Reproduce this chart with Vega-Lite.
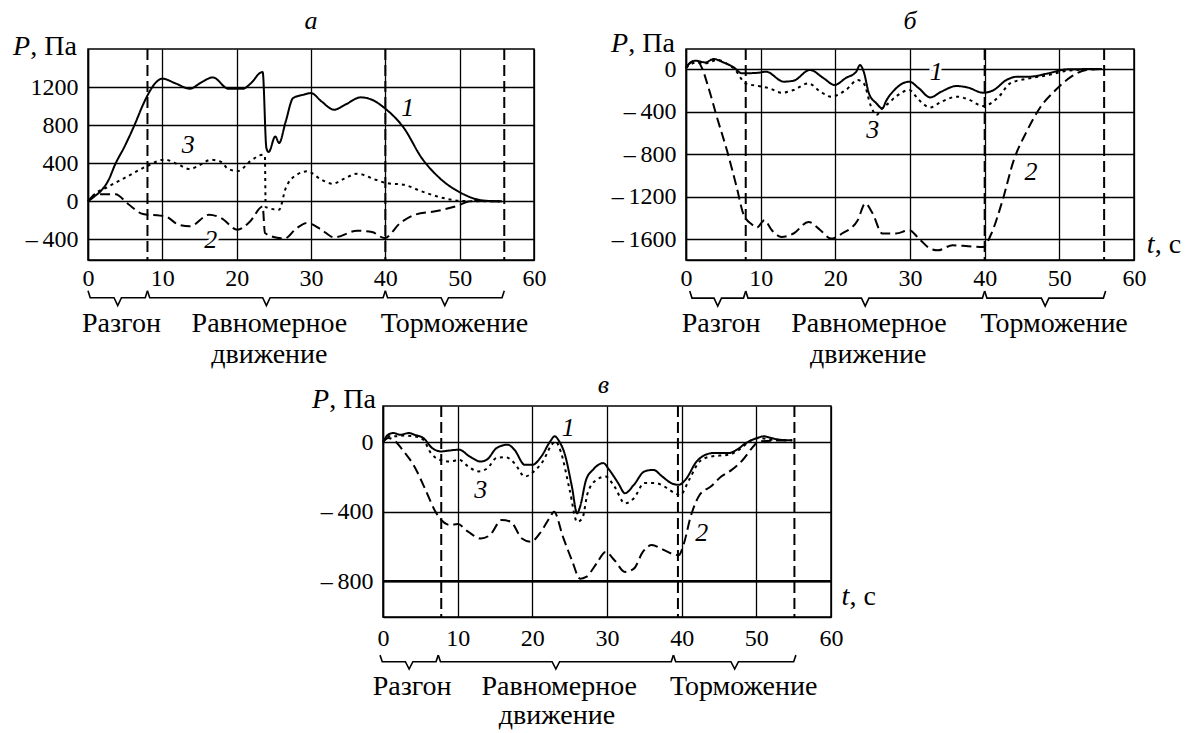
{
  "$schema": "https://vega.github.io/schema/vega-lite/v6.json",
  "padding": {"left": 12, "top": 7, "right": 5, "bottom": 5},
  "background": "white",
  "bounds": "full",
  "spacing": 1,
  "datasets": {
    "a_curves": [
      {"s":"1","t":0,"P":0},{"s":"1","t":0.9,"P":55},{"s":"1","t":1.8,"P":115},{"s":"1","t":2.8,"P":230},{"s":"1","t":3.6,"P":380},{"s":"1","t":5,"P":590},{"s":"1","t":6.4,"P":830},{"s":"1","t":7.3,"P":1000},{"s":"1","t":8.1,"P":1130},{"s":"1","t":9,"P":1240},{"s":"1","t":10,"P":1292},{"s":"1","t":11.7,"P":1245},{"s":"1","t":13.7,"P":1186},{"s":"1","t":15.2,"P":1250},{"s":"1","t":16.8,"P":1305},{"s":"1","t":18.9,"P":1186},{"s":"1","t":20.8,"P":1186},{"s":"1","t":22,"P":1250},{"s":"1","t":23.2,"P":1355},{"s":"1","t":23.5,"P":1361},{"s":"1","t":24,"P":561},{"s":"1","t":24.3,"P":519},{"s":"1","t":25.2,"P":684},{"s":"1","t":25.7,"P":614},{"s":"1","t":26.6,"P":842},{"s":"1","t":27.6,"P":1088},{"s":"1","t":29,"P":1123},{"s":"1","t":30,"P":1140},{"s":"1","t":31.4,"P":1053},{"s":"1","t":33.1,"P":965},{"s":"1","t":34.6,"P":1018},{"s":"1","t":36.7,"P":1095},{"s":"1","t":38.2,"P":1070},{"s":"1","t":39.9,"P":982},{"s":"1","t":42.5,"P":772},{"s":"1","t":44.9,"P":456},{"s":"1","t":47.3,"P":246},{"s":"1","t":50.2,"P":88},{"s":"1","t":53.1,"P":10},{"s":"1","t":55.7,"P":0},
      {"s":"3","t":0,"P":0},{"s":"3","t":0.8,"P":70},{"s":"3","t":2.6,"P":150},{"s":"3","t":5,"P":250},{"s":"3","t":7.9,"P":370},{"s":"3","t":10.3,"P":440},{"s":"3","t":12.2,"P":386},{"s":"3","t":13.7,"P":340},{"s":"3","t":15,"P":380},{"s":"3","t":16.5,"P":438},{"s":"3","t":17.8,"P":420},{"s":"3","t":18.9,"P":340},{"s":"3","t":20.2,"P":320},{"s":"3","t":21.8,"P":421},{"s":"3","t":23.5,"P":491},{"s":"3","t":23.8,"P":480},{"s":"3","t":23.9,"P":-60},{"s":"3","t":25.7,"P":-88},{"s":"3","t":26.6,"P":140},{"s":"3","t":28.1,"P":281},{"s":"3","t":29.5,"P":316},{"s":"3","t":31.4,"P":228},{"s":"3","t":32.9,"P":186},{"s":"3","t":34.5,"P":240},{"s":"3","t":36.2,"P":291},{"s":"3","t":38.7,"P":228},{"s":"3","t":40.1,"P":193},{"s":"3","t":42.5,"P":175},{"s":"3","t":44.9,"P":105},{"s":"3","t":47.8,"P":35},{"s":"3","t":50.2,"P":4},{"s":"3","t":55.7,"P":0},
      {"s":"2","t":0,"P":0},{"s":"2","t":1.1,"P":75},{"s":"2","t":3.7,"P":75},{"s":"2","t":5.4,"P":-28},{"s":"2","t":7.4,"P":-133},{"s":"2","t":9.7,"P":-150},{"s":"2","t":10.5,"P":-160},{"s":"2","t":12.2,"P":-246},{"s":"2","t":13.7,"P":-263},{"s":"2","t":16.3,"P":-140},{"s":"2","t":17.9,"P":-175},{"s":"2","t":20.1,"P":-298},{"s":"2","t":21.8,"P":-211},{"s":"2","t":23.5,"P":-53},{"s":"2","t":23.8,"P":-333},{"s":"2","t":25.7,"P":-386},{"s":"2","t":26.4,"P":-393},{"s":"2","t":28.1,"P":-281},{"s":"2","t":29.5,"P":-228},{"s":"2","t":31.4,"P":-298},{"s":"2","t":33.1,"P":-379},{"s":"2","t":36.2,"P":-309},{"s":"2","t":38.2,"P":-323},{"s":"2","t":39.9,"P":-386},{"s":"2","t":42,"P":-228},{"s":"2","t":44,"P":-140},{"s":"2","t":46.9,"P":-102},{"s":"2","t":49.7,"P":-46},{"s":"2","t":51.6,"P":4},{"s":"2","t":55.7,"P":0}
    ],
    "b_curves": [
      {"s":"1","t":0,"P":20},{"s":"1","t":1.25,"P":78},{"s":"1","t":2.6,"P":62},{"s":"1","t":3.7,"P":94},{"s":"1","t":5,"P":62},{"s":"1","t":6.4,"P":15},{"s":"1","t":7.5,"P":-41},{"s":"1","t":9.7,"P":-35},{"s":"1","t":10.7,"P":-25},{"s":"1","t":13.1,"P":-119},{"s":"1","t":14.4,"P":-110},{"s":"1","t":16.6,"P":-9},{"s":"1","t":18.4,"P":-85},{"s":"1","t":19.9,"P":-150},{"s":"1","t":21.4,"P":-85},{"s":"1","t":22.8,"P":-25},{"s":"1","t":23.3,"P":38},{"s":"1","t":23.8,"P":-25},{"s":"1","t":24.5,"P":-229},{"s":"1","t":25.5,"P":-323},{"s":"1","t":26.3,"P":-370},{"s":"1","t":26.8,"P":-300},{"s":"1","t":27.9,"P":-198},{"s":"1","t":29.9,"P":-119},{"s":"1","t":31.2,"P":-182},{"s":"1","t":32.7,"P":-267},{"s":"1","t":34.2,"P":-213},{"s":"1","t":36.2,"P":-160},{"s":"1","t":37.7,"P":-173},{"s":"1","t":39.8,"P":-223},{"s":"1","t":41.2,"P":-198},{"s":"1","t":42.9,"P":-104},{"s":"1","t":44.4,"P":-72},{"s":"1","t":46,"P":-72},{"s":"1","t":48.5,"P":-41},{"s":"1","t":51.1,"P":-3},{"s":"1","t":55.7,"P":0},
      {"s":"3","t":0,"P":10},{"s":"3","t":1.3,"P":60},{"s":"3","t":2.6,"P":53},{"s":"3","t":4.2,"P":85},{"s":"3","t":5.4,"P":53},{"s":"3","t":6.4,"P":6},{"s":"3","t":8,"P":-135},{"s":"3","t":9.7,"P":-160},{"s":"3","t":11.2,"P":-182},{"s":"3","t":12.8,"P":-223},{"s":"3","t":14.4,"P":-198},{"s":"3","t":16.4,"P":-135},{"s":"3","t":18,"P":-213},{"s":"3","t":19.4,"P":-260},{"s":"3","t":21.4,"P":-198},{"s":"3","t":23,"P":-104},{"s":"3","t":23.8,"P":-135},{"s":"3","t":24.8,"P":-355},{"s":"3","t":25.5,"P":-433},{"s":"3","t":26.3,"P":-370},{"s":"3","t":27.1,"P":-323},{"s":"3","t":28.1,"P":-260},{"s":"3","t":29.9,"P":-198},{"s":"3","t":31.2,"P":-292},{"s":"3","t":32.7,"P":-361},{"s":"3","t":34.2,"P":-308},{"s":"3","t":36.3,"P":-260},{"s":"3","t":37.8,"P":-285},{"s":"3","t":39.8,"P":-348},{"s":"3","t":41.9,"P":-260},{"s":"3","t":43.4,"P":-135},{"s":"3","t":46,"P":-88},{"s":"3","t":48.5,"P":-57},{"s":"3","t":51.1,"P":-16},{"s":"3","t":55.7,"P":0},
      {"s":"2","t":0,"P":10},{"s":"2","t":0.6,"P":62},{"s":"2","t":1.5,"P":78},{"s":"2","t":2.1,"P":15},{"s":"2","t":3,"P":-173},{"s":"2","t":4.15,"P":-455},{"s":"2","t":5.5,"P":-769},{"s":"2","t":6.8,"P":-1114},{"s":"2","t":7.7,"P":-1365},{"s":"2","t":8.8,"P":-1459},{"s":"2","t":9.5,"P":-1490},{"s":"2","t":10.5,"P":-1421},{"s":"2","t":11.5,"P":-1515},{"s":"2","t":12.8,"P":-1578},{"s":"2","t":14.4,"P":-1546},{"s":"2","t":16.4,"P":-1437},{"s":"2","t":18,"P":-1515},{"s":"2","t":19.4,"P":-1594},{"s":"2","t":20.9,"P":-1546},{"s":"2","t":23,"P":-1421},{"s":"2","t":24,"P":-1264},{"s":"2","t":25,"P":-1358},{"s":"2","t":26.3,"P":-1546},{"s":"2","t":28.1,"P":-1546},{"s":"2","t":29.9,"P":-1515},{"s":"2","t":31.2,"P":-1594},{"s":"2","t":32.7,"P":-1688},{"s":"2","t":33.7,"P":-1704},{"s":"2","t":35.7,"P":-1657},{"s":"2","t":37.8,"P":-1666},{"s":"2","t":39.8,"P":-1673},{"s":"2","t":40.9,"P":-1546},{"s":"2","t":42.4,"P":-1233},{"s":"2","t":43.9,"P":-856},{"s":"2","t":45.5,"P":-605},{"s":"2","t":47.5,"P":-355},{"s":"2","t":49.5,"P":-198},{"s":"2","t":51.6,"P":-72},{"s":"2","t":53.6,"P":-9},{"s":"2","t":55.7,"P":0}
    ],
    "c_curves": [
      {"s":"1","t":0,"P":0},{"s":"1","t":0.67,"P":42},{"s":"1","t":1.4,"P":52},{"s":"1","t":2.3,"P":42},{"s":"1","t":3.5,"P":52},{"s":"1","t":4.2,"P":42},{"s":"1","t":5.4,"P":23},{"s":"1","t":6.6,"P":-35},{"s":"1","t":7.8,"P":-54},{"s":"1","t":9,"P":-48},{"s":"1","t":10.2,"P":-44},{"s":"1","t":11.6,"P":-83},{"s":"1","t":13.1,"P":-112},{"s":"1","t":14,"P":-98},{"s":"1","t":15.2,"P":-35},{"s":"1","t":16.7,"P":-15},{"s":"1","t":17.6,"P":-44},{"s":"1","t":19,"P":-131},{"s":"1","t":20,"P":-131},{"s":"1","t":21.2,"P":-83},{"s":"1","t":22.4,"P":4},{"s":"1","t":23,"P":33},{"s":"1","t":23.6,"P":4},{"s":"1","t":24.3,"P":-63},{"s":"1","t":25.3,"P":-256},{"s":"1","t":26,"P":-410},{"s":"1","t":26.4,"P":-371},{"s":"1","t":27.2,"P":-217},{"s":"1","t":28.1,"P":-160},{"s":"1","t":29.5,"P":-121},{"s":"1","t":30.3,"P":-160},{"s":"1","t":31.5,"P":-236},{"s":"1","t":32.4,"P":-294},{"s":"1","t":33.6,"P":-246},{"s":"1","t":35,"P":-169},{"s":"1","t":36.2,"P":-160},{"s":"1","t":37.4,"P":-198},{"s":"1","t":38.6,"P":-236},{"s":"1","t":39.6,"P":-246},{"s":"1","t":40.5,"P":-217},{"s":"1","t":42,"P":-112},{"s":"1","t":43.2,"P":-73},{"s":"1","t":44.3,"P":-63},{"s":"1","t":46.3,"P":-63},{"s":"1","t":47.4,"P":-44},{"s":"1","t":48.6,"P":-6},{"s":"1","t":50.1,"P":23},{"s":"1","t":51,"P":33},{"s":"1","t":52,"P":23},{"s":"1","t":53.2,"P":13},{"s":"1","t":54.8,"P":10},
      {"s":"3","t":0,"P":0},{"s":"3","t":0.7,"P":33},{"s":"3","t":1.6,"P":33},{"s":"3","t":2.8,"P":37},{"s":"3","t":4.2,"P":33},{"s":"3","t":5.4,"P":13},{"s":"3","t":6.4,"P":-63},{"s":"3","t":7.6,"P":-102},{"s":"3","t":9,"P":-112},{"s":"3","t":10.2,"P":-102},{"s":"3","t":11.4,"P":-140},{"s":"3","t":12.8,"P":-169},{"s":"3","t":14,"P":-150},{"s":"3","t":15.2,"P":-92},{"s":"3","t":16.4,"P":-87},{"s":"3","t":17.6,"P":-121},{"s":"3","t":19,"P":-198},{"s":"3","t":20.2,"P":-169},{"s":"3","t":21.4,"P":-112},{"s":"3","t":22.6,"P":-15},{"s":"3","t":23.1,"P":4},{"s":"3","t":23.8,"P":-54},{"s":"3","t":25,"P":-275},{"s":"3","t":26,"P":-458},{"s":"3","t":26.7,"P":-438},{"s":"3","t":27.4,"P":-294},{"s":"3","t":28.6,"P":-217},{"s":"3","t":29.8,"P":-198},{"s":"3","t":31,"P":-256},{"s":"3","t":32.4,"P":-352},{"s":"3","t":33.6,"P":-323},{"s":"3","t":35,"P":-236},{"s":"3","t":36.5,"P":-236},{"s":"3","t":37.7,"P":-256},{"s":"3","t":39.1,"P":-294},{"s":"3","t":39.8,"P":-304},{"s":"3","t":41,"P":-217},{"s":"3","t":42.4,"P":-112},{"s":"3","t":43.9,"P":-83},{"s":"3","t":46.3,"P":-73},{"s":"3","t":47.7,"P":-44},{"s":"3","t":49.1,"P":4},{"s":"3","t":50.5,"P":23},{"s":"3","t":52,"P":13},{"s":"3","t":54.8,"P":10},
      {"s":"2","t":0,"P":0},{"s":"2","t":0.7,"P":23},{"s":"2","t":1.4,"P":13},{"s":"2","t":2.6,"P":-44},{"s":"2","t":4.2,"P":-140},{"s":"2","t":5.7,"P":-275},{"s":"2","t":6.9,"P":-390},{"s":"2","t":7.8,"P":-448},{"s":"2","t":9,"P":-477},{"s":"2","t":10,"P":-471},{"s":"2","t":11.4,"P":-515},{"s":"2","t":13.1,"P":-554},{"s":"2","t":14.3,"P":-535},{"s":"2","t":15.9,"P":-448},{"s":"2","t":17.1,"P":-458},{"s":"2","t":18.6,"P":-554},{"s":"2","t":19.8,"P":-573},{"s":"2","t":21,"P":-525},{"s":"2","t":22.4,"P":-429},{"s":"2","t":22.9,"P":-400},{"s":"2","t":24.1,"P":-544},{"s":"2","t":25.3,"P":-679},{"s":"2","t":26.4,"P":-785},{"s":"2","t":27.2,"P":-775},{"s":"2","t":28.6,"P":-698},{"s":"2","t":29.8,"P":-631},{"s":"2","t":31,"P":-679},{"s":"2","t":32.4,"P":-746},{"s":"2","t":33.6,"P":-727},{"s":"2","t":34.8,"P":-631},{"s":"2","t":36,"P":-592},{"s":"2","t":37.2,"P":-611},{"s":"2","t":38.6,"P":-640},{"s":"2","t":39.6,"P":-650},{"s":"2","t":40.3,"P":-583},{"s":"2","t":41.2,"P":-429},{"s":"2","t":42.4,"P":-304},{"s":"2","t":43.9,"P":-256},{"s":"2","t":45.3,"P":-198},{"s":"2","t":46.7,"P":-160},{"s":"2","t":48.2,"P":-102},{"s":"2","t":49.6,"P":-25},{"s":"2","t":50.3,"P":4},{"s":"2","t":54.8,"P":10}
    ],
    "a_marks": [{"t":8,"k":"edge"},{"t":40,"k":"mid"},{"t":56,"k":"edge"}],
    "b_marks": [{"t":8,"k":"edge"},{"t":40,"k":"mid"},{"t":56,"k":"edge"}],
    "c_marks": [{"t":7.8,"k":"edge"},{"t":39.5,"k":"edge"},{"t":55.1,"k":"edge"}],
    "a_braces": [
      {"g":"r","t":0,"P":-940},{"g":"r","t":0.3,"P":-1014},{"g":"r","t":3.5,"P":-1014},{"g":"r","t":4,"P":-1098},{"g":"r","t":4.5,"P":-1014},{"g":"r","t":7.7,"P":-1014},{"g":"r","t":8,"P":-940},
      {"g":"u","t":8,"P":-940},{"g":"u","t":8.3,"P":-1014},{"g":"u","t":23.5,"P":-1014},{"g":"u","t":24,"P":-1098},{"g":"u","t":24.5,"P":-1014},{"g":"u","t":39.7,"P":-1014},{"g":"u","t":40,"P":-940},
      {"g":"b","t":40,"P":-940},{"g":"b","t":40.3,"P":-1014},{"g":"b","t":47.5,"P":-1014},{"g":"b","t":48,"P":-1098},{"g":"b","t":48.5,"P":-1014},{"g":"b","t":55.7,"P":-1014},{"g":"b","t":56,"P":-940}
    ],
    "b_braces": [
      {"g":"r","t":0.5,"P":-2087},{"g":"r","t":0.8,"P":-2153},{"g":"r","t":3.75,"P":-2153},{"g":"r","t":4.25,"P":-2228},{"g":"r","t":4.75,"P":-2153},{"g":"r","t":7.7,"P":-2153},{"g":"r","t":8,"P":-2087},
      {"g":"u","t":8,"P":-2087},{"g":"u","t":8.3,"P":-2153},{"g":"u","t":23.5,"P":-2153},{"g":"u","t":24,"P":-2228},{"g":"u","t":24.5,"P":-2153},{"g":"u","t":39.7,"P":-2153},{"g":"u","t":40,"P":-2087},
      {"g":"b","t":40,"P":-2087},{"g":"b","t":40.3,"P":-2153},{"g":"b","t":47.6,"P":-2153},{"g":"b","t":48.1,"P":-2228},{"g":"b","t":48.6,"P":-2153},{"g":"b","t":55.9,"P":-2153},{"g":"b","t":56.2,"P":-2087}
    ],
    "c_braces": [
      {"g":"r","t":-0.4,"P":-1224},{"g":"r","t":-0.1,"P":-1262},{"g":"r","t":3,"P":-1262},{"g":"r","t":3.5,"P":-1304},{"g":"r","t":4,"P":-1262},{"g":"r","t":7.1,"P":-1262},{"g":"r","t":7.4,"P":-1224},
      {"g":"u","t":7.4,"P":-1224},{"g":"u","t":7.7,"P":-1262},{"g":"u","t":22.65,"P":-1262},{"g":"u","t":23.15,"P":-1304},{"g":"u","t":23.65,"P":-1262},{"g":"u","t":38.6,"P":-1262},{"g":"u","t":38.9,"P":-1224},
      {"g":"b","t":38.9,"P":-1224},{"g":"b","t":39.2,"P":-1262},{"g":"b","t":46.6,"P":-1262},{"g":"b","t":47.1,"P":-1304},{"g":"b","t":47.6,"P":-1262},{"g":"b","t":55,"P":-1262},{"g":"b","t":55.3,"P":-1224}
    ],
    "a_labels": [{"t":43,"P":979,"n":"1"},{"t":13.5,"P":596,"n":"3"},{"t":16.5,"P":-403,"n":"2"}],
    "b_labels": [{"t":33.5,"P":-25,"n":"1"},{"t":25,"P":-574,"n":"3"},{"t":46.2,"P":-966,"n":"2"}],
    "c_labels": [{"t":24.8,"P":81,"n":"1"},{"t":13.1,"P":-275,"n":"3"},{"t":42.7,"P":-525,"n":"2"}],
    "a_phases": [{"t":4.5,"P":-1372,"text":"Разгон"},{"t":24.4,"P":-1372,"text":"Равномерное"},{"t":24.4,"P":-1698,"text":"движение"},{"t":49.3,"P":-1372,"text":"Торможение"}],
    "b_phases": [{"t":4.7,"P":-2472,"text":"Разгон"},{"t":24.5,"P":-2472,"text":"Равномерное"},{"t":24.4,"P":-2764,"text":"движение"},{"t":49.3,"P":-2472,"text":"Торможение"}],
    "c_phases": [{"t":3.9,"P":-1452,"text":"Разгон"},{"t":23.6,"P":-1452,"text":"Равномерное"},{"t":23.3,"P":-1619,"text":"движение"},{"t":48.3,"P":-1452,"text":"Торможение"}],
    "one": [{"k":1}]
  },
  "vconcat": [
    {
      "hconcat": [
        {
          "width": 446, "height": 211,
          "layer": [
            {"data": {"name": "a_curves"}, "mark": {"type": "line", "interpolate": "monotone", "strokeWidth": 2, "color": "black"},
             "encoding": {
               "x": {"field": "t", "type": "quantitative", "scale": {"domain": [0, 60], "nice": false, "zero": false}, "axis": {"values": [0,10,20,30,40,50,60], "grid": true, "title": null, "labelFlush": false, "labelOverlap": false}},
               "y": {"field": "P", "type": "quantitative", "scale": {"domain": [-617, 1604], "nice": false, "zero": false}, "axis": {"values": [-400,0,400,800,1200], "grid": true, "title": null, "labelExpr": "datum.value < 0 ? '–\u2009' + abs(datum.value) : '' + datum.value"}},
               "strokeDash": {"field": "s", "type": "nominal", "scale": {"domain": ["1","2","3"], "range": [[1,0],[10,5],[3,4]]}, "legend": null},
               "strokeWidth": {"field": "s", "type": "nominal", "scale": {"domain": ["1","2","3"], "range": [2,2,2.4]}, "legend": null}
             }},
            {"data": {"name": "a_marks"}, "mark": {"type": "rule", "color": "black", "strokeDash": [11, 5]},
             "encoding": {"x": {"field": "t", "type": "quantitative"}, "strokeWidth": {"field": "k", "type": "nominal", "scale": {"domain": ["edge","mid"], "range": [1.6, 3.2]}, "legend": null}}},
            {"data": {"name": "a_braces"}, "mark": {"type": "line", "color": "black", "strokeWidth": 1.6},
             "encoding": {"x": {"field": "t", "type": "quantitative"}, "y": {"field": "P", "type": "quantitative"}, "detail": {"field": "g"}}},
            {"data": {"name": "a_labels"}, "mark": {"type": "text", "fontStyle": "italic", "fontSize": 26, "fill": "white", "stroke": "white", "strokeWidth": 6, "baseline": "middle"},
             "encoding": {"x": {"field": "t", "type": "quantitative"}, "y": {"field": "P", "type": "quantitative"}, "text": {"field": "n"}}},
            {"data": {"name": "a_labels"}, "mark": {"type": "text", "fontStyle": "italic", "fontSize": 26, "color": "black", "baseline": "middle"},
             "encoding": {"x": {"field": "t", "type": "quantitative"}, "y": {"field": "P", "type": "quantitative"}, "text": {"field": "n"}}},
            {"data": {"name": "a_phases"}, "mark": {"type": "text", "fontSize": 28, "color": "black", "baseline": "alphabetic", "align": "center"},
             "encoding": {"x": {"field": "t", "type": "quantitative"}, "y": {"field": "P", "type": "quantitative"}, "text": {"field": "text"}}},
            {"data": {"name": "one"}, "mark": {"type": "text", "text": "а", "fontStyle": "italic", "fontSize": 26, "color": "black", "align": "center", "baseline": "alphabetic", "dy": -20},
             "encoding": {"x": {"datum": 30}, "y": {"datum": 1604}}},
            {"data": {"name": "one"}, "mark": {"type": "text", "text": "P", "fontStyle": "italic", "fontSize": 28, "color": "black", "align": "right", "baseline": "alphabetic", "dx": -58, "dy": 6},
             "encoding": {"x": {"datum": 0}, "y": {"datum": 1604}}},
            {"data": {"name": "one"}, "mark": {"type": "text", "text": ", Па", "fontSize": 28, "color": "black", "align": "right", "baseline": "alphabetic", "dx": -11, "dy": 6},
             "encoding": {"x": {"datum": 0}, "y": {"datum": 1604}}}
          ]
        },
        {
          "width": 448, "height": 211,
          "layer": [
            {"data": {"name": "b_curves"}, "mark": {"type": "line", "interpolate": "monotone", "strokeWidth": 2, "color": "black"},
             "encoding": {
               "x": {"field": "t", "type": "quantitative", "scale": {"domain": [0, 60], "nice": false, "zero": false}, "axis": {"values": [0,10,20,30,40,50,60], "grid": true, "title": null, "labelFlush": false, "labelOverlap": false}},
               "y": {"field": "P", "type": "quantitative", "scale": {"domain": [-1795, 188], "nice": false, "zero": false}, "axis": {"values": [-1600,-1200,-800,-400,0], "grid": true, "title": null, "labelExpr": "datum.value < 0 ? '–\u2009' + abs(datum.value) : '' + datum.value"}},
               "strokeDash": {"field": "s", "type": "nominal", "scale": {"domain": ["1","2","3"], "range": [[1,0],[10,5],[3,4]]}, "legend": null},
               "strokeWidth": {"field": "s", "type": "nominal", "scale": {"domain": ["1","2","3"], "range": [2,2,2.4]}, "legend": null}
             }},
            {"data": {"name": "b_marks"}, "mark": {"type": "rule", "color": "black", "strokeDash": [11, 5]},
             "encoding": {"x": {"field": "t", "type": "quantitative"}, "strokeWidth": {"field": "k", "type": "nominal", "scale": {"domain": ["edge","mid"], "range": [1.6, 3.2]}, "legend": null}}},
            {"data": {"name": "b_braces"}, "mark": {"type": "line", "color": "black", "strokeWidth": 1.6},
             "encoding": {"x": {"field": "t", "type": "quantitative"}, "y": {"field": "P", "type": "quantitative"}, "detail": {"field": "g"}}},
            {"data": {"name": "b_labels"}, "mark": {"type": "text", "fontStyle": "italic", "fontSize": 26, "fill": "white", "stroke": "white", "strokeWidth": 6, "baseline": "middle"},
             "encoding": {"x": {"field": "t", "type": "quantitative"}, "y": {"field": "P", "type": "quantitative"}, "text": {"field": "n"}}},
            {"data": {"name": "b_labels"}, "mark": {"type": "text", "fontStyle": "italic", "fontSize": 26, "color": "black", "baseline": "middle"},
             "encoding": {"x": {"field": "t", "type": "quantitative"}, "y": {"field": "P", "type": "quantitative"}, "text": {"field": "n"}}},
            {"data": {"name": "b_phases"}, "mark": {"type": "text", "fontSize": 28, "color": "black", "baseline": "alphabetic", "align": "center"},
             "encoding": {"x": {"field": "t", "type": "quantitative"}, "y": {"field": "P", "type": "quantitative"}, "text": {"field": "text"}}},
            {"data": {"name": "one"}, "mark": {"type": "text", "text": "б", "fontStyle": "italic", "fontSize": 26, "color": "black", "align": "center", "baseline": "alphabetic", "dy": -20},
             "encoding": {"x": {"datum": 30}, "y": {"datum": 188}}},
            {"data": {"name": "one"}, "mark": {"type": "text", "text": "P", "fontStyle": "italic", "fontSize": 28, "color": "black", "align": "right", "baseline": "alphabetic", "dx": -58, "dy": 3},
             "encoding": {"x": {"datum": 0}, "y": {"datum": 188}}},
            {"data": {"name": "one"}, "mark": {"type": "text", "text": ", Па", "fontSize": 28, "color": "black", "align": "right", "baseline": "alphabetic", "dx": -11, "dy": 3},
             "encoding": {"x": {"datum": 0}, "y": {"datum": 188}}},
            {"data": {"name": "one"}, "mark": {"type": "text", "text": "t", "fontStyle": "italic", "fontSize": 28, "color": "black", "align": "left", "baseline": "alphabetic"},
             "encoding": {"x": {"datum": 61.7}, "y": {"datum": -1729}}},
            {"data": {"name": "one"}, "mark": {"type": "text", "text": ", с", "fontSize": 28, "color": "black", "align": "left", "baseline": "alphabetic", "dx": 8},
             "encoding": {"x": {"datum": 61.7}, "y": {"datum": -1729}}}
          ]
        }
      ],
      "spacing": 152,
      "bounds": "flush"
    },
    {
      "hconcat": [
        {
          "width": 295, "height": 20,
          "view": {"stroke": null},
          "data": {"name": "one"},
          "mark": {"type": "rule", "opacity": 0},
          "encoding": {"x": {"datum": 0, "type": "quantitative", "scale": {"domain": [0, 1]}, "axis": null}}
        },
        {
          "width": 448, "height": 211,
          "layer": [
            {"data": {"name": "c_curves"}, "mark": {"type": "line", "interpolate": "monotone", "strokeWidth": 2, "color": "black"},
             "encoding": {
               "x": {"field": "t", "type": "quantitative", "scale": {"domain": [0, 60], "nice": false, "zero": false}, "axis": {"values": [0,10,20,30,40,50,60], "grid": true, "title": null, "labelFlush": false, "labelOverlap": false, "labelPadding": 9}},
               "y": {"field": "P", "type": "quantitative", "scale": {"domain": [-1005, 207], "nice": false, "zero": false}, "axis": {"values": [-800,-400,0], "grid": true, "title": null, "labelExpr": "datum.value < 0 ? '–\u2009' + abs(datum.value) : '' + datum.value"}},
               "strokeDash": {"field": "s", "type": "nominal", "scale": {"domain": ["1","2","3"], "range": [[1,0],[10,5],[3,4]]}, "legend": null},
               "strokeWidth": {"field": "s", "type": "nominal", "scale": {"domain": ["1","2","3"], "range": [2,2,2.4]}, "legend": null}
             }},
            {"data": {"name": "one"}, "mark": {"type": "rule", "color": "black", "strokeWidth": 2.6},
             "encoding": {"y": {"datum": -800}}},
            {"data": {"name": "c_marks"}, "mark": {"type": "rule", "color": "black", "strokeDash": [11, 5]},
             "encoding": {"x": {"field": "t", "type": "quantitative"}, "strokeWidth": {"field": "k", "type": "nominal", "scale": {"domain": ["edge","mid"], "range": [1.8, 3.2]}, "legend": null}}},
            {"data": {"name": "c_braces"}, "mark": {"type": "line", "color": "black", "strokeWidth": 1.6},
             "encoding": {"x": {"field": "t", "type": "quantitative"}, "y": {"field": "P", "type": "quantitative"}, "detail": {"field": "g"}}},
            {"data": {"name": "c_labels"}, "mark": {"type": "text", "fontStyle": "italic", "fontSize": 26, "fill": "white", "stroke": "white", "strokeWidth": 6, "baseline": "middle"},
             "encoding": {"x": {"field": "t", "type": "quantitative"}, "y": {"field": "P", "type": "quantitative"}, "text": {"field": "n"}}},
            {"data": {"name": "c_labels"}, "mark": {"type": "text", "fontStyle": "italic", "fontSize": 26, "color": "black", "baseline": "middle"},
             "encoding": {"x": {"field": "t", "type": "quantitative"}, "y": {"field": "P", "type": "quantitative"}, "text": {"field": "n"}}},
            {"data": {"name": "c_phases"}, "mark": {"type": "text", "fontSize": 28, "color": "black", "baseline": "alphabetic", "align": "center"},
             "encoding": {"x": {"field": "t", "type": "quantitative"}, "y": {"field": "P", "type": "quantitative"}, "text": {"field": "text"}}},
            {"data": {"name": "one"}, "mark": {"type": "text", "text": "в", "fontStyle": "italic", "fontSize": 26, "color": "black", "align": "center", "baseline": "alphabetic", "dy": -13},
             "encoding": {"x": {"datum": 29.5}, "y": {"datum": 207}}},
            {"data": {"name": "one"}, "mark": {"type": "text", "text": "P", "fontStyle": "italic", "fontSize": 28, "color": "black", "align": "right", "baseline": "alphabetic", "dx": -54, "dy": 2},
             "encoding": {"x": {"datum": 0}, "y": {"datum": 207}}},
            {"data": {"name": "one"}, "mark": {"type": "text", "text": ", Па", "fontSize": 28, "color": "black", "align": "right", "baseline": "alphabetic", "dx": -7, "dy": 2},
             "encoding": {"x": {"datum": 0}, "y": {"datum": 207}}},
            {"data": {"name": "one"}, "mark": {"type": "text", "text": "t", "fontStyle": "italic", "fontSize": 28, "color": "black", "align": "left", "baseline": "alphabetic"},
             "encoding": {"x": {"datum": 61.4}, "y": {"datum": -934}}},
            {"data": {"name": "one"}, "mark": {"type": "text", "text": ", с", "fontSize": 28, "color": "black", "align": "left", "baseline": "alphabetic", "dx": 8},
             "encoding": {"x": {"datum": 61.4}, "y": {"datum": -934}}}
          ]
        }
      ],
      "spacing": 0,
      "bounds": "flush"
    }
  ],
  "config": {
    "font": "Liberation Serif",
    "view": {"stroke": "black", "strokeWidth": 1.5},
    "axis": {"domainColor": "black", "domainWidth": 1.5, "gridColor": "black", "gridOpacity": 1, "gridWidth": 1.3, "ticks": false, "labelColor": "black", "labelFont": "Liberation Serif", "labelFontSize": 24},
    "axisX": {"labelPadding": 6},
    "axisY": {"labelPadding": 10},
    "text": {"font": "Liberation Serif"}
  }
}
